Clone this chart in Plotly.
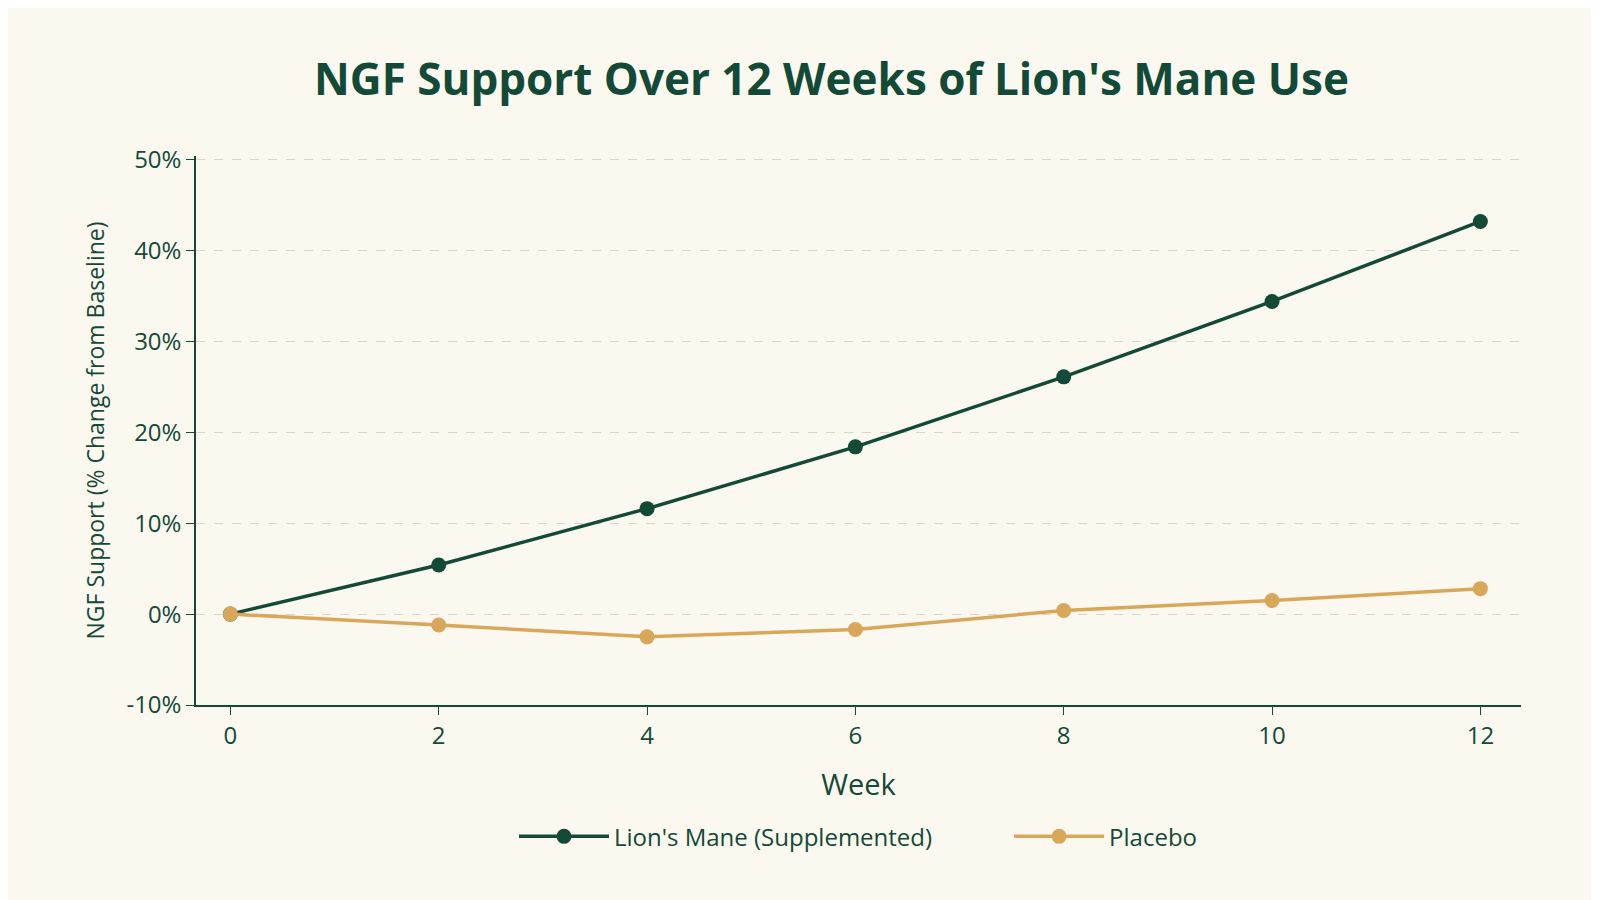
import plotly.graph_objects as go

weeks = [0, 2, 4, 6, 8, 10, 12]
lions_mane = [0, 5.4, 11.6, 18.4, 26.1, 34.4, 43.2]
placebo = [0, -1.2, -2.5, -1.7, 0.4, 1.5, 2.8]
y_ticks = [-10, 0, 10, 20, 30, 40, 50]
y_labels = [f"{v}%" for v in y_ticks]

green = "#124a37"
gold = "#d9a75a"
bg = "#fbf8f0"

fig = go.Figure()
fig.add_trace(go.Scatter(x=weeks, y=lions_mane, mode="lines+markers",
                         name="Lion's Mane (Supplemented)" + "\u2003" * 3,
                         line=dict(color=green, width=3.5),
                         marker=dict(size=15, color=green)))
fig.add_trace(go.Scatter(x=weeks, y=placebo, mode="lines+markers",
                         name="Placebo",
                         line=dict(color=gold, width=3.5),
                         marker=dict(size=15, color=gold)))

fig.update_layout(
    width=1599, height=900,
    paper_bgcolor=bg, plot_bgcolor=bg,
    font=dict(family="Open Sans, sans-serif", color=green, size=24),
    title=dict(text="<b>NGF Support Over 12 Weeks of Lion's Mane Use</b>",
               x=0.515, xanchor="center", y=0.92, yanchor="middle",
               font=dict(size=44, color=green)),
    margin=dict(l=188, r=86, t=148, b=203),
    legend=dict(orientation="h", x=0.5, xanchor="center", y=-0.24, yanchor="middle",
                font=dict(size=24), itemwidth=90, bgcolor="rgba(0,0,0,0)"),
    xaxis=dict(title=dict(text="Week", standoff=25), range=[-0.33, 12.39],
               tickvals=weeks, showgrid=False, zeroline=False,
               showline=True, linecolor=green, linewidth=1.5,
               ticks="outside", ticklen=8, tickcolor=green),
    yaxis=dict(title=dict(text="NGF Support (% Change from Baseline)", standoff=15,
                          font=dict(size=23)),
               range=[-10, 50.4], tickvals=y_ticks, ticktext=y_labels,
               showgrid=True, gridcolor="#d8d6cc", griddash="dash", gridwidth=1,
               zeroline=False, showline=True, linecolor=green, linewidth=1.5,
               ticks="outside", ticklen=8, tickcolor=green),
)

fig.write_html("out.html")
